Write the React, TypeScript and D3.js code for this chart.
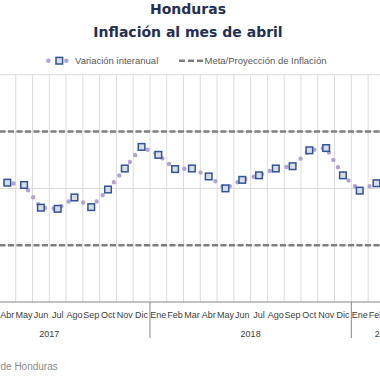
import React from "react";
import * as d3 from "d3";

const monthNames = ["Ene", "Feb", "Mar", "Abr", "May", "Jun", "Jul", "Ago", "Sep", "Oct", "Nov", "Dic"];
const years = ["2017", "2018", "2019"];
const monthsPerYear = [12, 12, 4];
// Variación interanual (%), Ene 2017 – Abr 2019
const inflation = [
  3.47, 3.71, 3.98, 4.10, 4.06, 3.66, 3.64, 3.84, 3.67, 3.98, 4.35, 4.73,
  4.59, 4.34, 4.35, 4.21, 4.00, 4.15, 4.23, 4.35, 4.39, 4.67, 4.71, 4.23,
  3.96, 4.09, 4.30, 4.24,
];
const metaBand = [3, 5];
const yTicks = [2, 3, 4, 5, 6];

const categories: { year: string; month: string; idx: number }[] = [];
years.forEach((yr, yi) => {
  for (let m = 0; m < monthsPerYear[yi]; m++) {
    categories.push({ year: yr, month: monthNames[m], idx: categories.length });
  }
});

const W = 380;
const H = 380;
const step = 16.78;
const x0 = -51.4;
const plotTop = 74.75;
const plotBottom = 302;

export default function App() {
  const x = d3
    .scaleBand<number>()
    .domain(categories.map((c) => c.idx))
    .range([x0, x0 + step * categories.length])
    .padding(0);
  const cx = (i: number) => (x(i) as number) + x.bandwidth() / 2;
  const y = d3.scaleLinear().domain([2, 6]).range([plotBottom, plotTop]);

  const line = d3
    .line<number>()
    .x((_, i) => cx(i))
    .y((d) => y(d));

  const bounds: number[] = [0];
  monthsPerYear.forEach((n) => bounds.push(bounds[bounds.length - 1] + n));
  const xb = (k: number) => x0 + k * step;

  const font = "'Liberation Sans', Arial, sans-serif";
  const titleFont = "'DejaVu Sans', sans-serif";
  const dotColor = "#b4a3d2";
  const sqStroke = "#2f5597";
  const sqFill = "#d8dce4";
  const sq = 6.6;

  return (
    <svg
      width={W}
      height={H}
      style={{ position: "fixed", left: 0, top: 0, background: "#fff" }}
      fontFamily={font}
    >
      <rect x={0} y={0} width={W} height={H} fill="#fff" />
      {/* Title */}
      <text x={188} y={13.5} textAnchor="middle" fontFamily={titleFont} fontWeight={700} fontSize={14} fill="#1f2f55">
        Honduras
      </text>
      <text x={188} y={36.5} textAnchor="middle" fontFamily={titleFont} fontWeight={700} fontSize={14} fill="#1f2f55">
        Inflación al mes de abril
      </text>

      {/* Legend */}
      <g>
        <circle cx={48.3} cy={60.7} r={2.2} fill={dotColor} />
        <circle cx={66.3} cy={60.7} r={2.2} fill={dotColor} />
        <rect x={59.3 - sq / 2} y={60.7 - sq / 2} width={sq} height={sq} fill={sqFill} stroke={sqStroke} strokeWidth={1.5} />
        <text x={75} y={64} fontSize={9.5} fill="#595959">Variación interanual</text>
        <line x1={179} x2={204} y1={60.7} y2={60.7} stroke="#808080" strokeWidth={2.5} strokeDasharray="6 3" />
        <text x={204.5} y={64} fontSize={9.5} fill="#595959">Meta/Proyección de Inflación</text>
      </g>

      {/* Vertical gridlines at category boundaries */}
      {d3.range(categories.length + 1).map((k) => (
        <line key={"vg" + k} x1={xb(k)} x2={xb(k)} y1={plotTop} y2={plotBottom} stroke="#dcdcdc" strokeWidth={1} />
      ))}
      {/* Horizontal gridlines */}
      {yTicks.slice(1).map((t) => (
        <line key={"hg" + t} x1={0} x2={W} y1={y(t)} y2={y(t)} stroke="#d9d9d9" strokeWidth={1} />
      ))}

      {/* Meta band */}
      {metaBand.map((v) => (
        <line
          key={"m" + v}
          x1={cx(0)}
          x2={cx(categories.length - 1)}
          y1={y(v)}
          y2={y(v)}
          stroke="#7f7f7f"
          strokeWidth={2.5}
          strokeDasharray="6 2.5"
        />
      ))}

      {/* Axis */}
      <line x1={0} x2={W} y1={plotBottom} y2={plotBottom} stroke="#868686" strokeWidth={1} />
      {bounds.map((k) => (
        <line key={"yb" + k} x1={xb(k)} x2={xb(k)} y1={plotBottom} y2={338} stroke="#868686" strokeWidth={1} />
      ))}

      {/* Month labels (only those that fall on the visible page) */}
      {categories
        .filter((c) => cx(c.idx) > -2 && cx(c.idx) < W + 2)
        .map((c) => (
          <text key={"ml" + c.idx} x={cx(c.idx)} y={318} textAnchor="middle" fontSize={9} fill="#404040">
            {c.month}
          </text>
        ))}
      {/* Year labels */}
      {years.map((yr, yi) => (
        <text key={"yl" + yr} x={(xb(bounds[yi]) + xb(bounds[yi + 1])) / 2} y={336.5} textAnchor="middle" fontSize={9} fill="#404040">
          {yr}
        </text>
      ))}

      {/* Series line (round dots) */}
      <path
        d={line(inflation) || ""}
        fill="none"
        stroke={dotColor}
        strokeWidth={4.4}
        strokeLinecap="round"
        strokeDasharray="0 8.6"
      />
      {inflation.map((v, i) => (
        <rect
          key={"s" + i}
          x={cx(i) - sq / 2}
          y={y(v) - sq / 2}
          width={sq}
          height={sq}
          fill={sqFill}
          stroke={sqStroke}
          strokeWidth={1.5}
        />
      ))}

      {/* Source */}
      <text x={0.5} y={369.5} fontSize={10} fill="#8c8c8c">de Honduras</text>
    </svg>
  );
}
